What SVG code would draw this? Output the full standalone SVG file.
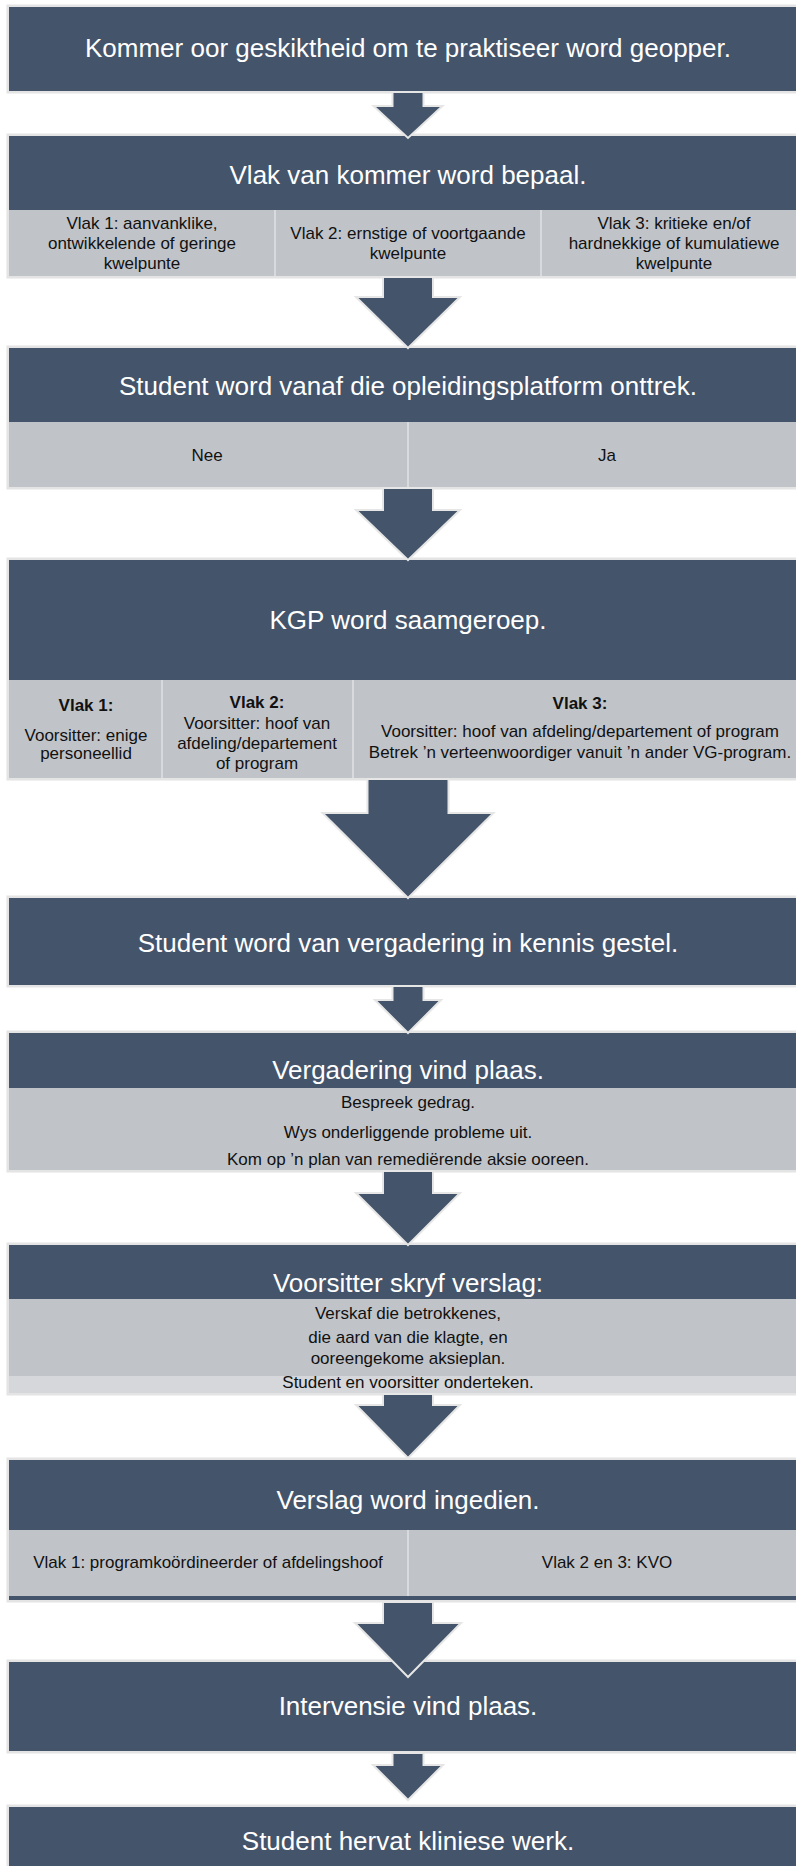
<svg xmlns="http://www.w3.org/2000/svg" width="796" height="1866" viewBox="0 0 796 1866">
<style>
.dark{fill:#44546a}
.gray{fill:#c0c4c9}
.strip{fill:#d5d7da}
.frame{fill:none;stroke:#e4e4e4;stroke-width:3}
.div{stroke:#d8dadd;stroke-width:2}
.arrow{fill:#44546a;stroke:#e6e6e6;stroke-width:2;stroke-linejoin:miter}
.title{font-family:"Liberation Sans",Arial,sans-serif;font-size:26px;fill:#ffffff;text-anchor:middle}
.row{font-family:"Liberation Sans",Arial,sans-serif;font-size:17px;fill:#111111;text-anchor:middle}
.b{font-weight:bold}
</style>
<rect width="796" height="1866" fill="#ffffff"/>

<g id="n1">
<rect class="frame" x="8" y="6" width="800" height="86"/>
<rect class="dark" x="9" y="7" width="800" height="84"/>
<text class="title" x="408" y="57">Kommer oor geskiktheid om te praktiseer word geopper.</text>
</g>

<g id="n2">
<rect class="frame" x="8" y="135" width="800" height="142"/>
<rect class="dark" x="9" y="136" width="800" height="74"/>
<rect class="gray" x="9" y="210" width="800" height="66"/>
<line class="div" x1="275" y1="210" x2="275" y2="276"/>
<line class="div" x1="541" y1="210" x2="541" y2="276"/>
<text class="title" x="408" y="184">Vlak van kommer word bepaal.</text>
<text class="row" x="142" y="229">Vlak 1: aanvanklike,</text>
<text class="row" x="142" y="249">ontwikkelende of geringe</text>
<text class="row" x="142" y="269">kwelpunte</text>
<text class="row" x="408" y="239">Vlak 2: ernstige of voortgaande</text>
<text class="row" x="408" y="259">kwelpunte</text>
<text class="row" x="674" y="229">Vlak 3: kritieke en/of</text>
<text class="row" x="674" y="249">hardnekkige of kumulatiewe</text>
<text class="row" x="674" y="269">kwelpunte</text>
</g>

<g id="n3">
<rect class="frame" x="8" y="347" width="800" height="141"/>
<rect class="dark" x="9" y="348" width="800" height="74"/>
<rect class="gray" x="9" y="422" width="800" height="65"/>
<line class="div" x1="408" y1="422" x2="408" y2="487"/>
<text class="title" x="408" y="395">Student word vanaf die opleidingsplatform onttrek.</text>
<text class="row" x="207" y="461">Nee</text>
<text class="row" x="607" y="461">Ja</text>
</g>

<g id="n4">
<rect class="frame" x="8" y="559" width="800" height="220"/>
<rect class="dark" x="9" y="560" width="800" height="120"/>
<rect class="gray" x="9" y="680" width="800" height="98"/>
<line class="div" x1="162" y1="680" x2="162" y2="778"/>
<line class="div" x1="353" y1="680" x2="353" y2="778"/>
<text class="title" x="408" y="629">KGP word saamgeroep.</text>
<text class="row b" x="86" y="711">Vlak 1:</text>
<text class="row" x="86" y="741">Voorsitter: enige</text>
<text class="row" x="86" y="759">personeellid</text>
<text class="row b" x="257" y="708">Vlak 2:</text>
<text class="row" x="257" y="729">Voorsitter: hoof van</text>
<text class="row" x="257" y="749">afdeling/departement</text>
<text class="row" x="257" y="769">of program</text>
<text class="row b" x="580" y="709">Vlak 3:</text>
<text class="row" x="580" y="737">Voorsitter: hoof van afdeling/departement of program</text>
<text class="row" x="580" y="758">Betrek ’n verteenwoordiger vanuit ’n ander VG-program.</text>
</g>

<g id="n5">
<rect class="frame" x="8" y="897" width="800" height="89"/>
<rect class="dark" x="9" y="898" width="800" height="87"/>
<text class="title" x="408" y="952">Student word van vergadering in kennis gestel.</text>
</g>

<g id="n6">
<rect class="frame" x="8" y="1032" width="800" height="139"/>
<rect class="dark" x="9" y="1033" width="800" height="55"/>
<rect class="gray" x="9" y="1088" width="800" height="82"/>
<text class="title" x="408" y="1079">Vergadering vind plaas.</text>
<text class="row" x="408" y="1108">Bespreek gedrag.</text>
<text class="row" x="408" y="1138">Wys onderliggende probleme uit.</text>
<text class="row" x="408" y="1165">Kom op ’n plan van remediërende aksie ooreen.</text>
</g>

<g id="n7">
<rect class="frame" x="8" y="1244" width="800" height="150"/>
<rect class="dark" x="9" y="1245" width="800" height="54"/>
<rect class="gray" x="9" y="1299" width="800" height="77"/>
<rect class="strip" x="9" y="1376" width="800" height="17"/>
<text class="title" x="408" y="1292">Voorsitter skryf verslag:</text>
<text class="row" x="408" y="1319">Verskaf die betrokkenes,</text>
<text class="row" x="408" y="1343">die aard van die klagte, en</text>
<text class="row" x="408" y="1364">ooreengekome aksieplan.</text>
<text class="row" x="408" y="1388">Student en voorsitter onderteken.</text>
</g>

<g id="n8">
<rect class="frame" x="8" y="1459" width="800" height="142"/>
<rect class="dark" x="9" y="1460" width="800" height="140"/>
<rect class="gray" x="9" y="1530" width="800" height="66"/>
<line class="div" x1="408" y1="1530" x2="408" y2="1596"/>
<text class="title" x="408" y="1509">Verslag word ingedien.</text>
<text class="row" x="208" y="1568">Vlak 1: programkoördineerder of afdelingshoof</text>
<text class="row" x="607" y="1568">Vlak 2 en 3: KVO</text>
</g>

<g id="n9">
<rect class="frame" x="8" y="1661" width="800" height="91"/>
<rect class="dark" x="9" y="1662" width="800" height="89"/>
<text class="title" x="408" y="1715">Intervensie vind plaas.</text>
</g>

<g id="n10">
<rect class="frame" x="8" y="1806" width="800" height="80"/>
<rect class="dark" x="9" y="1807" width="800" height="79"/>
<text class="title" x="408" y="1850">Student hervat kliniese werk.</text>
</g>

<g id="connectors">
<polygon class="arrow" points="392.5,92 423.5,92 423.5,106 442.5,106 408,138 373.5,106 392.5,106"/>
<polygon class="arrow" points="383,277 433,277 433,297 460,297 408,348 356,297 383,297"/>
<polygon class="arrow" points="383,488 433,488 433,510 460,510 408,560 356,510 383,510"/>
<polygon class="arrow" points="367.5,779 448.5,779 448.5,813 493.5,813 408,898 322.5,813 367.5,813"/>
<polygon class="arrow" points="392.5,986 423.5,986 423.5,1000 441,1000 408,1033 375,1000 392.5,1000"/>
<polygon class="arrow" points="383,1171 433,1171 433,1193 460,1193 408,1245 356,1193 383,1193"/>
<polygon class="arrow" points="383,1394 433,1394 433,1405 460,1405 408,1458 356,1405 383,1405"/>
<polygon class="arrow" points="383,1602 433,1602 433,1623 461,1623 408,1677 355,1623 383,1623"/>
<polygon class="arrow" points="392.5,1753 423.5,1753 423.5,1765 443,1765 408,1800 373,1765 392.5,1765"/>
</g>
</svg>
